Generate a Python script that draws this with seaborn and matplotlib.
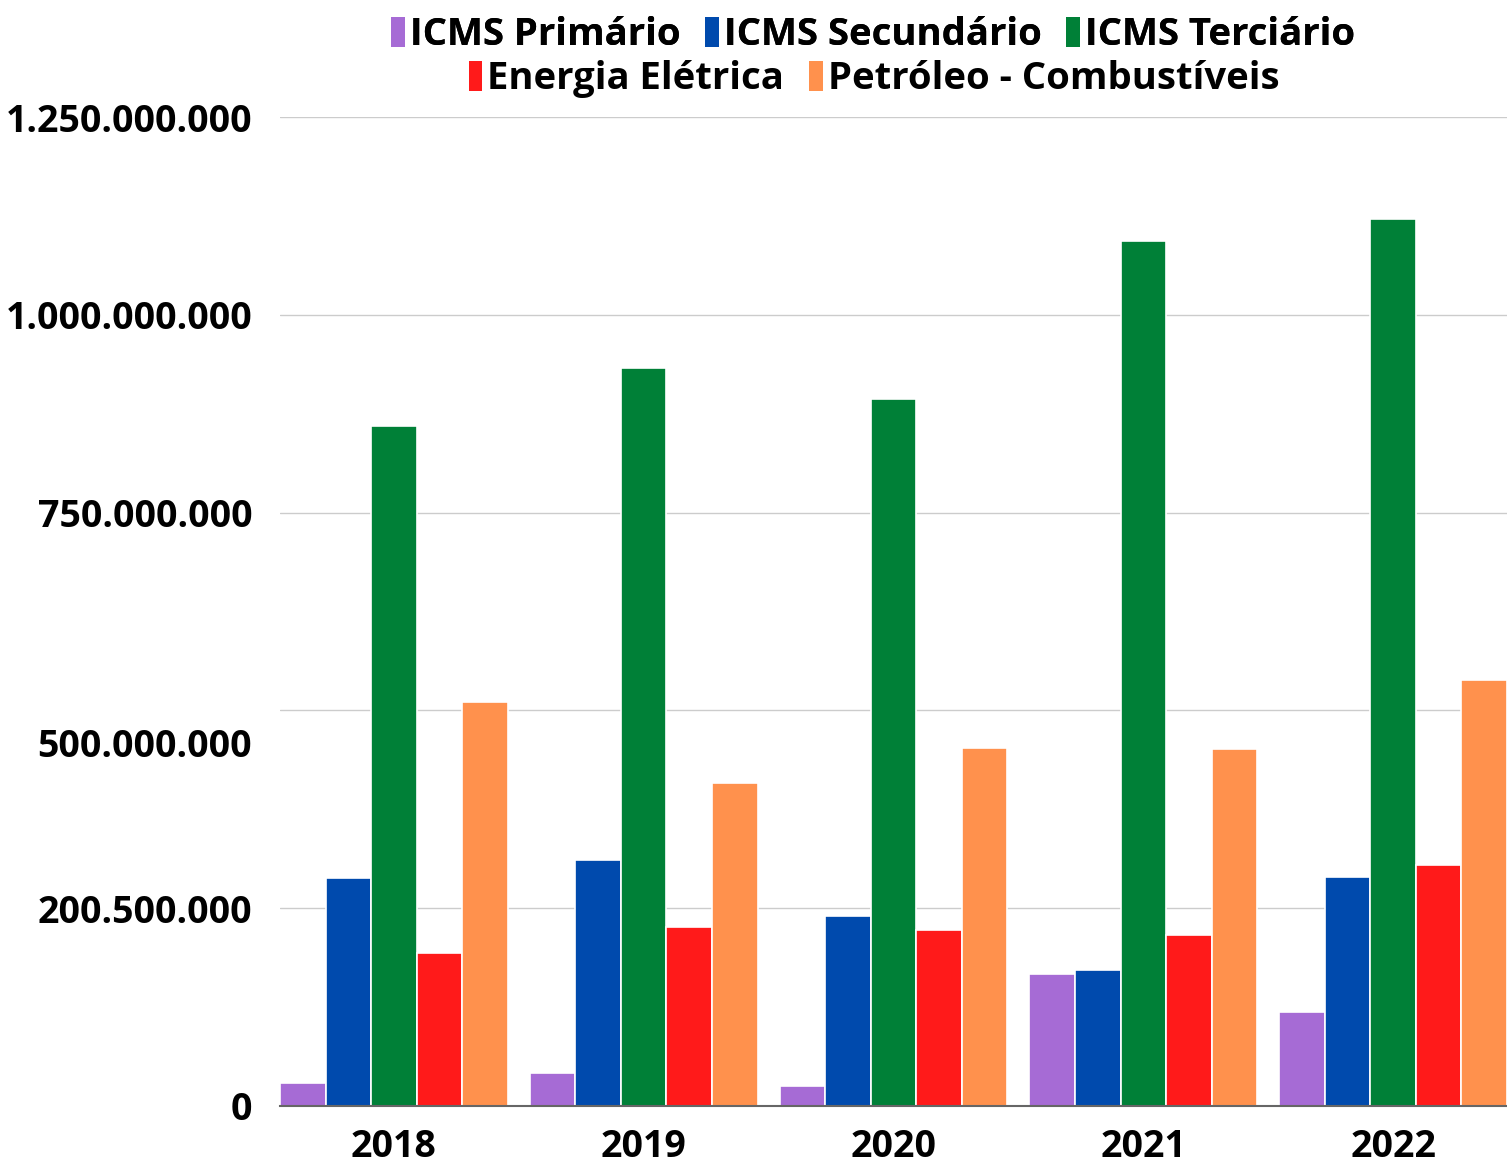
import matplotlib
matplotlib.use("Agg")
import matplotlib.pyplot as plt
import matplotlib.transforms as mtransforms
from matplotlib.patches import Patch
import seaborn as sns
import pandas as pd

# values
years = ["2018", "2019", "2020", "2021", "2022"]
series = ["ICMS Primário", "ICMS Secundário", "ICMS Terciário",
          "Energia Elétrica", "Petróleo - Combustíveis"]
icms_primario = [29e6, 42e6, 25e6, 167e6, 119e6]
icms_secundario = [288e6, 311e6, 240e6, 172e6, 289e6]
icms_terciario = [860e6, 933e6, 893e6, 1093e6, 1121e6]
energia_eletrica = [193e6, 226e6, 223e6, 216e6, 304e6]
petroleo = [511e6, 408e6, 453e6, 451e6, 539e6]
colors = ["#A66BD5", "#004AAD", "#008037", "#FF1A1A", "#FF914D"]

ytick_vals = [0, 250e6, 500e6, 750e6, 1000e6, 1250e6]
ytick_labels = ["0", "200.500.000", "500.000.000", "750.000.000",
                "1.000.000.000", "1.250.000.000"]

values = [icms_primario, icms_secundario, icms_terciario, energia_eletrica, petroleo]
df = pd.DataFrame({
    "ano": [y for s in series for y in years],
    "serie": [s for s in series for _ in years],
    "valor": [v for vals in values for v in vals],
})

sns.set_style("white")
plt.rcParams["font.family"] = ["Open Sans", "DejaVu Sans"]
plt.rcParams["font.weight"] = "bold"
plt.rcParams["text.color"] = "black"
plt.rcParams["xtick.color"] = "black"
plt.rcParams["ytick.color"] = "black"

fig = plt.figure(figsize=(15.07, 11.65), dpi=100)
ax = fig.add_axes([280 / 1507, 1 - 1106 / 1165, 1 - 280 / 1507, (1106 - 117) / 1165])

sns.barplot(data=df, x="ano", y="valor", hue="serie", hue_order=series,
            palette=colors, width=0.912, gap=0, saturation=1,
            edgecolor="white", linewidth=1.2, legend=False, ax=ax)

ax.set_xlim(-0.456, 4.456)
ax.set_ylim(0, 1.25e9)
ax.set_yticks(ytick_vals)
ax.set_yticklabels(ytick_labels)
ax.grid(axis="y", color="#cccccc", linewidth=1)
ax.set_axisbelow(True)
for s in ["top", "right", "left"]:
    ax.spines[s].set_visible(False)
ax.spines["bottom"].set_color("#666666")
ax.spines["bottom"].set_linewidth(1.5)
ax.set_xlabel("")
ax.set_ylabel("")
ax.tick_params(axis="y", length=0, pad=20, labelsize=27, labelcolor="black")
ax.tick_params(axis="x", length=0, pad=16, labelsize=27, labelcolor="black")
for lab in ax.get_yticklabels() + ax.get_xticklabels():
    lab.set_fontweight("bold")

# the 500.000.000 label sits a bit below its gridline in the original
t = ax.yaxis.get_major_ticks()[2]
t.label1.set_transform(t.label1.get_transform() +
                       mtransforms.ScaledTranslation(0, -0.32, fig.dpi_scale_trans))

handles = [Patch(facecolor=c, edgecolor="none") for c in colors]
leg_kw = dict(loc="center", frameon=False, handlelength=0.36,
              handleheight=0.85, handletextpad=0.13, columnspacing=0.65,
              borderpad=0, borderaxespad=0, labelcolor="black",
              prop={"weight": "bold", "size": 27.5})
leg1 = fig.legend(handles[:3], series[:3], ncol=3,
                  bbox_to_anchor=(873 / 1507, 1 - 35 / 1165), **leg_kw)
fig.legend(handles[3:], series[3:], ncol=2,
           bbox_to_anchor=(874 / 1507, 1 - 79 / 1165), **leg_kw)
fig.add_artist(leg1)

fig.savefig("out.png", dpi=100)
plt.close(fig)
